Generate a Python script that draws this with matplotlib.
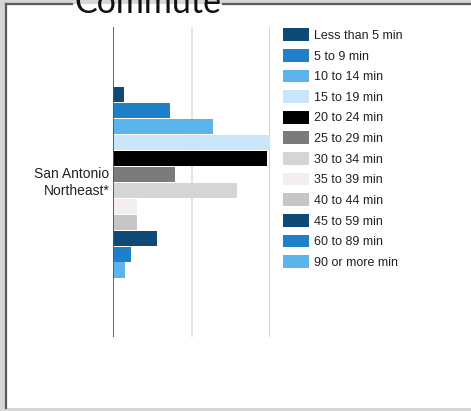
import matplotlib
matplotlib.use("Agg")
import matplotlib.pyplot as plt
from matplotlib.patches import Patch, Rectangle
from matplotlib.lines import Line2D

# Share of commuters by travel time (percent)
categories = ["Less than 5 min", "5 to 9 min", "10 to 14 min", "15 to 19 min",
              "20 to 24 min", "25 to 29 min", "30 to 34 min", "35 to 39 min",
              "40 to 44 min", "45 to 59 min", "60 to 89 min", "90 or more min"]
values = [1.4, 7.3, 12.7, 20.0, 19.6, 7.9, 15.8, 3.0, 3.0, 5.6, 2.2, 1.5]
colors = ["#0f4a77", "#1e80c9", "#5cb4ec", "#c9e5f9", "#000000", "#7b7b7b",
          "#d5d5d5", "#f4eeee", "#c5c5c5", "#0f4a77", "#1e80c9", "#5cb4ec"]
place = "San Antonio\nNortheast*"
title = "Commute"
grid_ticks = [0, 10, 20]

W, H = 471, 411
fig = plt.figure(figsize=(W / 100, H / 100), dpi=100)
fig.patch.set_facecolor("#d6d6d6")

def fx(px):
    return px / W

def fy(py):
    return 1 - py / H

# white panel with dark top/left rule
fig.patches.append(Rectangle((fx(7), fy(408)), fx(W - 7), (404 / H),
                             transform=fig.transFigure, facecolor="white",
                             edgecolor="none", zorder=-5))
for xs, ys in [([fx(6), fx(6)], [fy(408), fy(4)]),
               ([fx(6), fx(72)], [fy(4), fy(4)]),
               ([fx(223), fx(W)], [fy(4), fy(4)])]:
    fig.add_artist(Line2D(xs, ys, transform=fig.transFigure, color="#5a5a5a",
                          lw=1.6, zorder=-4))

fig.text(fx(147.5), fy(13), title, ha="center", va="baseline", fontsize=24.5,
         family="Lato", fontweight="normal", color="#111111")

ax = fig.add_axes([fx(113.3), fy(337), fx(270 - 113.3), (337 - 27) / H])
ax.set_facecolor("none")
ax.set_zorder(2)
ypos = list(range(len(values)))
ax.barh(ypos, values, height=0.95, color=colors, zorder=3)
ax.set_xlim(0, 20)
ax.set_ylim(15.2, -4.24)
for t in grid_ticks[1:]:
    ax.axvline(t, color="#e4e4e4" if t < 20 else "#d2d2d2", lw=1.4, zorder=1)
ax.axvline(0, color="#555555", lw=1.3, zorder=4)
for s in ax.spines.values():
    s.set_visible(False)
ax.set_xticks([])
ax.set_yticks([])

ax.text(-0.025, (len(values) - 1) / 2, place, transform=ax.get_yaxis_transform(),
        ha="right", va="center", fontsize=10, family="Liberation Sans",
        color="#222222", linespacing=1.25)

handles = [Patch(facecolor=c, edgecolor="none") for c in colors]
fig.legend(handles, categories, loc="upper left",
           bbox_to_anchor=(fx(283), fy(28.3)), frameon=False,
           prop={"family": "Liberation Sans", "size": 9},
           handlelength=2.08, handleheight=1.2, handletextpad=0.4,
           labelspacing=0.56, borderpad=0, borderaxespad=0,
           labelcolor="#222222")

fig.savefig("out.png", dpi=100, facecolor=fig.get_facecolor())
